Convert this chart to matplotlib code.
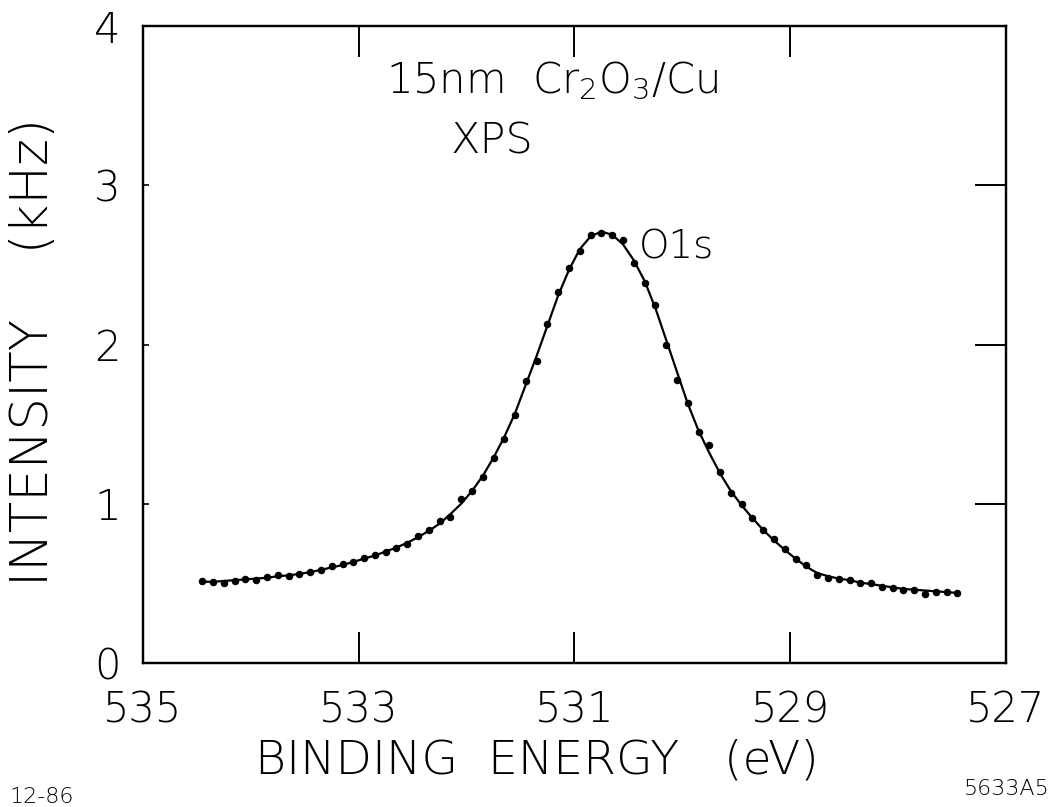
import matplotlib

matplotlib.use('Agg')
import matplotlib.pyplot as plt

# O 1s XPS scan, 15nm Cr2O3 on Cu
energy = [534.45, 534.35, 534.25, 534.15, 534.05, 533.95, 533.85, 533.75, 533.65, 533.55,
          533.45, 533.35, 533.25, 533.15, 533.05, 532.95, 532.85, 532.75, 532.65, 532.55,
          532.45, 532.35, 532.25, 532.15, 532.05, 531.95, 531.85, 531.75, 531.65, 531.55,
          531.45, 531.35, 531.25, 531.15, 531.05, 530.95, 530.85, 530.75, 530.65, 530.55,
          530.45, 530.35, 530.25, 530.15, 530.05, 529.95, 529.85, 529.75, 529.65, 529.55,
          529.45, 529.35, 529.25, 529.15, 529.05, 528.95, 528.85, 528.75, 528.65, 528.55,
          528.45, 528.35, 528.25, 528.15, 528.05, 527.95, 527.85, 527.75, 527.65, 527.55,
          527.45]
# measured points
intensity = [0.515, 0.51, 0.50, 0.515, 0.53, 0.52, 0.54, 0.55, 0.545, 0.56,
             0.57, 0.585, 0.61, 0.62, 0.635, 0.66, 0.68, 0.70, 0.725, 0.75,
             0.80, 0.835, 0.89, 0.92, 1.03, 1.08, 1.17, 1.29, 1.41, 1.56,
             1.77, 1.90, 2.13, 2.33, 2.48, 2.59, 2.69, 2.70, 2.69, 2.66,
             2.51, 2.39, 2.25, 2.00, 1.78, 1.63, 1.45, 1.37, 1.20, 1.07,
             1.00, 0.91, 0.835, 0.78, 0.715, 0.655, 0.615, 0.55, 0.535, 0.53,
             0.52, 0.50, 0.50, 0.48, 0.47, 0.46, 0.46, 0.435, 0.445, 0.445,
             0.44]
# smooth fitted curve
fit_curve = [0.51, 0.51, 0.515, 0.52, 0.525, 0.53, 0.535, 0.545, 0.55, 0.56,
             0.57, 0.585, 0.60, 0.615, 0.635, 0.655, 0.675, 0.70, 0.725, 0.755,
             0.79, 0.83, 0.875, 0.935, 1.00, 1.08, 1.175, 1.29, 1.42, 1.57,
             1.75, 1.93, 2.12, 2.31, 2.47, 2.60, 2.68, 2.71, 2.69, 2.63,
             2.53, 2.40, 2.23, 2.03, 1.83, 1.63, 1.46, 1.32, 1.19, 1.08,
             0.99, 0.91, 0.835, 0.77, 0.71, 0.655, 0.605, 0.565, 0.545, 0.53,
             0.52, 0.505, 0.495, 0.485, 0.475, 0.465, 0.46, 0.455, 0.45, 0.445,
             0.44]

x_ticks = [535, 533, 531, 529, 527]
y_ticks = [0, 1, 2, 3, 4]

plt.rcParams['font.family'] = ['DejaVu Sans']
plt.rcParams['font.weight'] = 'light'
plt.rcParams['axes.labelweight'] = 'light'
plt.rcParams['mathtext.default'] = 'regular'

fig = plt.figure(figsize=(10.55, 8.07), dpi=100)
ax = fig.add_axes([0.1355, 0.1785, 0.818, 0.789])

ax.plot(energy, fit_curve, color='black', linewidth=1.6)
ax.plot(energy, intensity, linestyle='none', color='black',
        marker='o', markersize=4.4)

ax.set_xlim(535, 527)
ax.set_ylim(0, 4)

ax.set_xticks(x_ticks)
ax.set_yticks(y_ticks)
ax.set_xticklabels([str(v) for v in x_ticks], fontsize=30)
ax.set_yticklabels([str(v) for v in y_ticks], fontsize=30)

ax.tick_params(axis='x', direction='in', length=22, width=1.4, pad=19,
               top=True, bottom=True)
ax.tick_params(axis='y', direction='in', length=4, width=1.2, pad=16)

# longer ticks on the right side, no labels
right = ax.twinx()
right.set_ylim(0, 4)
right.set_yticks([1, 2, 3])
right.tick_params(axis='y', direction='in', length=22, width=1.4, labelright=False)

for a in (ax, right):
    for spine in a.spines.values():
        spine.set_linewidth(1.6)

ax.set_xlabel('BINDING  ENERGY   (eV)', fontsize=34, fontweight='light')
ax.xaxis.set_label_coords(0.457, -0.118)
ax.set_ylabel('INTENSITY    (kHz)', fontsize=37, fontweight='light')
ax.yaxis.set_label_coords(-0.098, 0.488)

ax.text(532.75, 3.655, '15nm  Cr$_2$O$_3$/Cu', fontsize=30, ha='left', va='center')
ax.text(532.15, 3.28, 'XPS', fontsize=31, ha='left', va='center')
ax.text(530.40, 2.61, 'O1s', fontsize=28, ha='left', va='center')

fig.text(0.009, 0.0, '12-86', fontsize=16, ha='left', va='bottom')
fig.text(0.995, 0.01, '5633A5', fontsize=16, ha='right', va='bottom')

fig.savefig('out.png', dpi=100)
plt.close(fig)
